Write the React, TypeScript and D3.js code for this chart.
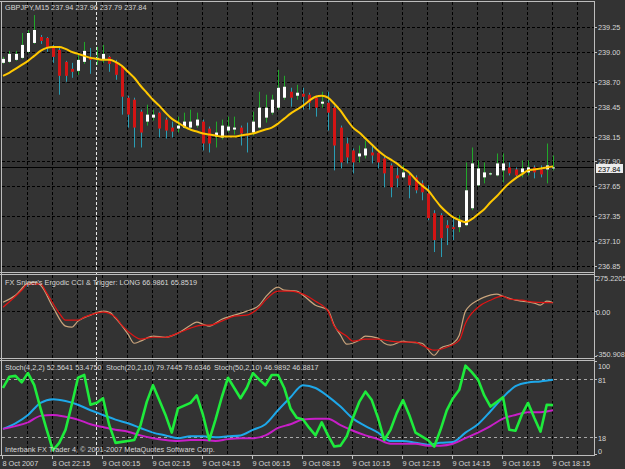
import { useEffect, useRef } from "react";
import * as d3 from "d3";

const WIDTH = 625;
const HEIGHT = 469;

// GBPJPY M15, one entry per bar (8 Oct 20:15 .. 9 Oct 18:15)
const opens = [
  238.89, 238.90, 238.92, 238.94, 239.00, 239.09, 239.15, 239.14, 239.04, 239.02,
  238.90, 238.83, 238.81, 238.90, 238.95, 238.93, 238.92, 238.95, 238.90, 238.85,
  238.54, 238.52, 238.40, 238.30, 238.34, 238.39, 238.32, 238.24, 238.23, 238.24,
  238.24, 238.26, 238.30, 238.23, 238.15, 238.14, 238.21, 238.22, 238.24, 238.18,
  238.19, 238.24, 238.34, 238.39, 238.44, 238.54, 238.60, 238.56, 238.58, 238.57,
  238.54, 238.48, 238.49, 238.44, 238.24, 238.08, 238.01, 237.95, 237.96, 237.99,
  237.99, 237.93, 237.86, 237.76, 237.74, 237.76, 237.74, 237.68, 237.58, 237.38,
  237.36, 237.26, 237.24, 237.24, 237.26, 237.43, 237.66, 237.74, 237.77, 237.76,
  237.81, 237.84, 237.82, 237.79, 237.79, 237.84, 237.82, 237.82, 237.83,
];
const highs = [
  238.95, 239.01, 239.01, 239.19, 239.22, 239.37, 239.17, 239.15, 239.07, 239.04,
  238.91, 238.89, 238.97, 239.10, 239.04, 239.05, 239.07, 238.96, 238.92, 238.86,
  238.56, 238.54, 238.42, 238.47, 238.42, 238.40, 238.34, 238.30, 238.35, 238.39,
  238.42, 238.39, 238.32, 238.25, 238.30, 238.32, 238.35, 238.35, 238.26, 238.29,
  238.40, 238.60, 238.57, 238.57, 238.82, 238.76, 238.64, 238.67, 238.64, 238.59,
  238.56, 238.60, 238.60, 238.46, 238.26, 238.14, 238.03, 238.06, 238.11, 238.06,
  238.01, 237.95, 237.88, 237.84, 237.86, 237.79, 237.76, 237.71, 237.66, 237.41,
  237.38, 237.31, 237.33, 237.36, 237.89, 238.04, 237.91, 237.89, 237.79, 237.98,
  237.98, 237.89, 237.84, 237.91, 237.91, 237.86, 237.86, 238.08, 237.96,
];
const lows = [
  238.88, 238.89, 238.91, 238.93, 238.99, 239.08, 239.08, 239.00, 238.89, 238.57,
  238.70, 238.74, 238.77, 238.88, 238.78, 238.87, 238.89, 238.80, 238.72, 238.37,
  238.24, 238.04, 238.04, 238.26, 238.31, 238.14, 238.13, 238.14, 238.19, 238.23,
  238.21, 238.24, 238.01, 237.99, 238.04, 238.12, 238.19, 238.17, 238.06, 237.99,
  238.16, 238.23, 238.29, 238.37, 238.42, 238.52, 238.45, 238.52, 238.42, 238.42,
  238.35, 238.44, 238.21, 237.81, 237.83, 237.88, 237.78, 237.89, 237.93, 237.88,
  237.83, 237.64, 237.54, 237.64, 237.73, 237.53, 237.58, 237.51, 237.31, 236.99,
  236.94, 237.06, 237.11, 237.19, 237.25, 237.41, 237.65, 237.68, 237.76, 237.75,
  237.69, 237.76, 237.75, 237.74, 237.76, 237.73, 237.74, 237.68, 237.81,
];
const closes = [
  238.93, 238.98, 238.98, 239.07, 239.19, 239.22, 239.11, 239.04, 238.95, 238.76,
  238.76, 238.80, 238.92, 239.01, 238.92, 238.94, 238.98, 238.88, 238.77, 238.55,
  238.37, 238.24, 238.19, 238.37, 238.37, 238.23, 238.21, 238.20, 238.26, 238.30,
  238.30, 238.32, 238.08, 238.08, 238.19, 238.26, 238.25, 238.24, 238.18, 238.16,
  238.30, 238.44, 238.44, 238.52, 238.64, 238.65, 238.54, 238.59, 238.55, 238.49,
  238.44, 238.50, 238.39, 238.06, 237.89, 237.94, 237.89, 237.98, 238.03, 237.96,
  237.89, 237.78, 237.64, 237.73, 237.79, 237.66, 237.61, 237.59, 237.33, 237.11,
  237.13, 237.23, 237.22, 237.31, 237.61, 237.88, 237.83, 237.79, 237.78, 237.88,
  237.88, 237.78, 237.76, 237.83, 237.84, 237.79, 237.77, 237.86, 237.84,
];
// yellow moving average, one value per bar
const maValues = [
  238.76, 238.79, 238.83, 238.87, 238.91, 238.96, 239.01, 239.04, 239.05, 239.05,
  239.03, 239.00, 238.98, 238.96, 238.94, 238.93, 238.92, 238.92, 238.90, 238.86,
  238.80, 238.74, 238.66, 238.59, 238.52, 238.46, 238.39, 238.33, 238.29, 238.25,
  238.22, 238.20, 238.18, 238.17, 238.16, 238.15, 238.15, 238.15, 238.16, 238.17,
  238.18, 238.20, 238.22, 238.24, 238.28, 238.33, 238.38, 238.42, 238.46, 238.51,
  238.55, 238.56, 238.54, 238.48, 238.41, 238.32, 238.24, 238.19, 238.13, 238.07,
  238.01, 237.96, 237.92, 237.88, 237.83, 237.79, 237.72, 237.66, 237.61, 237.53,
  237.45, 237.39, 237.34, 237.31, 237.29, 237.32, 237.37, 237.42, 237.49, 237.55,
  237.62, 237.68, 237.73, 237.77, 237.81, 237.82, 237.83, 237.84, 237.85,
];
const currentPrice = 237.84;
const priceTicks = [239.25, 239.0, 238.7, 238.45, 238.15, 237.9, 237.65, 237.35, 237.1, 236.85];
const timeLabels = [
  "8 Oct 2007", "8 Oct 22:15", "9 Oct 00:15", "9 Oct 02:15", "9 Oct 04:15", "9 Oct 06:15",
  "9 Oct 08:15", "9 Oct 10:15", "9 Oct 12:15", "9 Oct 14:15", "9 Oct 16:15", "9 Oct 18:15",
];

// Ergodic CCI (tan) and trigger (red): bar index / value
const cciIdx = [
  0, 2, 4, 5, 6, 8, 10, 11, 12, 14, 16, 17, 18, 20, 21, 22, 24, 26, 28, 30,
  31, 32, 33, 35, 37, 39, 41, 42, 44, 45, 47, 48, 50, 52, 53, 54, 55, 57, 58, 60,
  61, 62, 64, 65, 67, 69, 70, 72, 73, 74, 76, 77, 79, 80, 82, 83, 85, 86, 87, 88,
];
const cciValues = [
  70, 125, 219, 227, 204, 31, -117, -125, -78, -31, 0, -8, -55, -180, -251, -235, -196, -204, -172, -110,
  -86, -102, -117, -63, -31, 0, 47, 110, 188, 164, 157, 125, 47, 8, -110, -188, -258, -227, -196, -211,
  -251, -266, -235, -243, -251, -345, -290, -251, -188, 0, 86, 110, 133, 117, 86, 78, 63, 47, 78, 67,
];
const triggerIdx = [
  0, 2, 3, 4, 6, 7, 9, 10, 12, 13, 15, 16, 18, 19, 21, 22, 24, 26, 28, 30,
  32, 33, 35, 37, 39, 41, 42, 44, 46, 48, 50, 52, 53, 55, 56, 58, 60, 62, 64, 66,
  67, 69, 71, 73, 74, 76, 78, 80, 81, 83, 85, 88,
];
const triggerValues = [
  31, 117, 164, 211, 211, 141, -16, -70, -70, -47, -16, -8, -47, -110, -196, -219, -204, -204, -172, -133,
  -110, -110, -78, -39, -31, 31, 86, 157, 157, 133, 78, 0, -117, -196, -235, -219, -219, -235, -243, -243,
  -266, -305, -282, -227, -94, 31, 86, 117, 94, 86, 70, 66,
];
const cciMax = 275.2205;
const cciMin = -350.908;

// Stoch(4,2,2): every bar
const stochFast = [
  71, 83, 84, 77, 87, 74, 49, 26, 4, 12,
  26, 53, 82, 85, 53, 55, 60, 31, 12, 13,
  14, 15, 31, 56, 74, 58, 42, 23, 49, 52,
  55, 63, 42, 15, 37, 61, 82, 71, 60, 71,
  87, 80, 74, 85, 85, 71, 49, 39, 37, 28,
  20, 34, 20, 8, 9, 19, 39, 56, 67, 58,
  39, 15, 26, 44, 58, 42, 23, 19, 15, 8,
  26, 47, 60, 69, 95, 88, 80, 63, 51, 56,
  61, 26, 25, 42, 55, 39, 24, 53, 52.56,
];
// Stoch(20,2,10) and Stoch(50,2,10): every second bar
const stochMid = [
  27, 33, 42, 55, 59, 57, 53, 47, 42, 37,
  33, 28, 23, 20, 17, 19, 19, 18, 19, 20,
  26, 32, 47, 61, 74, 71, 62, 51, 38, 30,
  23, 14, 14, 12, 10, 12, 13, 23, 32, 46,
  61, 73, 77, 78, 79.74,
];
const stochSlow = [
  27, 30, 34, 41, 42, 40, 37, 32, 29, 26,
  24, 20, 17, 15, 14, 15, 15, 14, 16, 17,
  17, 20, 28, 32, 37, 38, 38, 31, 25, 20,
  16, 11, 11, 11, 9, 9, 11, 17, 23, 30,
  38, 42, 45, 45, 46.99,
];
const stochLevels = [81, 18];
const stochTicks = [100, 81, 18, 0];

const FONT = "'Liberation Sans', Arial, sans-serif";
const TEXT = "#d6d6d6";
const FRAME = "#bdbdbd";

export default function App() {
  const ref = useRef<SVGSVGElement>(null);

  useEffect(() => {
    if (!ref.current) return;
    const svg = d3.select(ref.current);
    svg.selectAll("*").remove();

    const left = 2;
    const right = 594;
    const main = { top: 2, bottom: 272 };
    const cci = { top: 275, bottom: 358 };
    const sto = { top: 361, bottom: 455 };

    const x = d3.scaleLinear().domain([0, 88]).range([3, 553]);
    const yPrice = d3.scaleLinear().domain([236.85, 239.25]).range([266, 27]);
    const yCci = d3.scaleLinear().domain([cciMin, cciMax]).range([356, 276]);
    const yStoch = d3.scaleLinear().domain([0, 100]).range([454, 361]);
    const px = (v: number) => Math.round(v) + 0.5;

    svg.append("rect").attr("width", WIDTH).attr("height", HEIGHT).attr("fill", "#333333");

    const defs = svg.append("defs");
    [["clip-main", main], ["clip-cci", cci], ["clip-sto", sto]].forEach(([id, p]: any) => {
      defs.append("clipPath").attr("id", id)
        .append("rect").attr("x", left).attr("y", p.top).attr("width", right - left).attr("height", p.bottom - p.top);
    });

    // 1) GRID
    const gridX = d3.range(4, 93, 4);
    [main, cci, sto].forEach((p) => {
      gridX.forEach((i) => {
        svg.append("line")
          .attr("x1", Math.round(x(i)) - 0.5).attr("x2", Math.round(x(i)) - 0.5)
          .attr("y1", p.top).attr("y2", p.bottom)
          .attr("stroke", "#000").attr("stroke-dasharray", "3,2");
      });
    });
    priceTicks.forEach((t) => {
      svg.append("line")
        .attr("x1", left).attr("x2", right)
        .attr("y1", px(yPrice(t))).attr("y2", px(yPrice(t)))
        .attr("stroke", "#000").attr("stroke-dasharray", "3,2");
    });
    svg.append("line")
      .attr("x1", left).attr("x2", right)
      .attr("y1", px(yCci(0))).attr("y2", px(yCci(0)))
      .attr("stroke", "#000").attr("stroke-dasharray", "3,2");
    stochLevels.forEach((l) => {
      svg.append("line")
        .attr("x1", left).attr("x2", right)
        .attr("y1", px(yStoch(l))).attr("y2", px(yStoch(l)))
        .attr("stroke", "#a8a8a8").attr("stroke-dasharray", "3,3");
    });

    // current price line
    svg.append("line")
      .attr("x1", left).attr("x2", right)
      .attr("y1", px(yPrice(currentPrice))).attr("y2", px(yPrice(currentPrice)))
      .attr("stroke", "#000");

    // crosshair
    svg.append("line")
      .attr("x1", Math.round(x(15)) - 0.5).attr("x2", Math.round(x(15)) - 0.5)
      .attr("y1", main.top).attr("y2", sto.bottom)
      .attr("stroke", "#e8e8e8").attr("stroke-dasharray", "3,2");

    // 2) CANDLES
    const gMain = svg.append("g").attr("clip-path", "url(#clip-main)");
    opens.forEach((o, i) => {
      const c = closes[i];
      const bull = c >= o;
      const cx = Math.round(x(i));
      gMain.append("line")
        .attr("x1", cx + 0.5).attr("x2", cx + 0.5)
        .attr("y1", yPrice(highs[i])).attr("y2", yPrice(lows[i]))
        .attr("stroke", bull ? "#21a82a" : "#2a9db4").attr("stroke-width", 1);
      const yTop = yPrice(Math.max(o, c));
      const yBot = yPrice(Math.min(o, c));
      gMain.append("rect")
        .attr("x", cx - 1).attr("width", 3)
        .attr("y", yTop).attr("height", Math.max(1, yBot - yTop))
        .attr("fill", bull ? "#ffffff" : "#d41414");
    });

    const maLine = d3.line<number>().x((_, i) => x(i)).y((d) => yPrice(d)).curve(d3.curveMonotoneX);
    gMain.append("path").attr("d", maLine(maValues))
      .attr("fill", "none").attr("stroke", "#ffc800").attr("stroke-width", 2);

    // 3) CCI PANEL
    const gCci = svg.append("g").attr("clip-path", "url(#clip-cci)");
    const pairLine = (yS: d3.ScaleLinear<number, number>) =>
      d3.line<[number, number]>().x((d) => x(d[0])).y((d) => yS(d[1])).curve(d3.curveMonotoneX);
    gCci.append("path")
      .attr("d", pairLine(yCci)(cciIdx.map((i, k) => [i, cciValues[k]])))
      .attr("fill", "none").attr("stroke", "#c9a47c").attr("stroke-width", 1.2);
    gCci.append("path")
      .attr("d", pairLine(yCci)(triggerIdx.map((i, k) => [i, triggerValues[k]])))
      .attr("fill", "none").attr("stroke", "#e01414").attr("stroke-width", 1.2);

    // 4) STOCH PANEL
    const gSto = svg.append("g").attr("clip-path", "url(#clip-sto)");
    const everyOther = (vals: number[]) => vals.map((v, k) => [k * 2, v] as [number, number]);
    gSto.append("path")
      .attr("d", pairLine(yStoch)(everyOther(stochMid)))
      .attr("fill", "none").attr("stroke", "#1ea8ea").attr("stroke-width", 2);
    gSto.append("path")
      .attr("d", pairLine(yStoch)(everyOther(stochSlow)))
      .attr("fill", "none").attr("stroke", "#c81ec8").attr("stroke-width", 2);
    const fastLine = d3.line<number>().x((_, i) => x(i)).y((d) => yStoch(d));
    gSto.append("path").attr("d", fastLine(stochFast))
      .attr("fill", "none").attr("stroke", "#1eeb3c").attr("stroke-width", 2.6)
      .attr("stroke-linejoin", "round");

    // 5) FRAME
    const frameLine = (x1: number, y1: number, x2: number, y2: number) =>
      svg.append("line").attr("x1", x1).attr("y1", y1).attr("x2", x2).attr("y2", y2)
        .attr("stroke", FRAME).attr("stroke-width", 1);
    frameLine(0, 1.5, right + 0.5, 1.5);
    frameLine(1.5, 1, 1.5, sto.bottom);
    frameLine(right + 0.5, 1, right + 0.5, sto.bottom + 1);
    frameLine(0, main.bottom + 0.5, right, main.bottom + 0.5);
    frameLine(0, cci.top - 0.5, right, cci.top - 0.5);
    frameLine(0, cci.bottom + 0.5, right, cci.bottom + 0.5);
    frameLine(0, sto.top - 0.5, right, sto.top - 0.5);
    frameLine(0, sto.bottom + 0.5, right + 0.5, sto.bottom + 0.5);

    const label = (tx: number, ty: number, s: string, fill = TEXT) =>
      svg.append("text").attr("x", tx).attr("y", ty).text(s)
        .attr("font-family", FONT).attr("font-size", "7.3px").attr("fill", fill);

    // price axis
    priceTicks.forEach((t) => {
      const yy = px(yPrice(t));
      frameLine(right, yy, right + 3, yy);
      label(598, yy + 2.5, t.toFixed(2));
    });
    const yc = px(yPrice(currentPrice));
    svg.append("rect").attr("x", 596).attr("y", yc - 3.5).attr("width", 27).attr("height", 9).attr("fill", "#ececec");
    label(598, yc + 4, currentPrice.toFixed(2), "#000");

    // CCI axis
    [[cciMax, "275.2205", 281], [0, "0.00", px(yCci(0)) + 3], [cciMin, "-350.908", 357]].forEach(([v, s, ty]: any) => {
      frameLine(right, px(yCci(v)), right + 3, px(yCci(v)));
      label(596, ty, s);
    });

    // stoch axis
    stochTicks.forEach((t) => {
      const yy = Math.min(Math.max(px(yStoch(t)), sto.top + 5), sto.bottom - 4);
      frameLine(right, px(yStoch(t)), right + 3, px(yStoch(t)));
      label(598, yy + 3, String(t));
    });

    // time axis
    timeLabels.forEach((s, k) => {
      const tx = Math.round(x(k * 8)) - 0.5;
      frameLine(tx, sto.bottom, tx, sto.bottom + 4);
      label(tx, 466, s);
    });

    // titles
    label(5, 10, "GBPJPY,M15  237.94 237.96 237.79 237.84");
    label(5, 285, "FX Sniper's Ergodic CCI & Trigger: LONG 66.9861 65.8519");
    label(5, 370, "Stoch(4,2,2) 52.5641 53.4750");
    label(106, 370, "Stoch(20,2,10) 79.7445 79.6346");
    label(214, 370, "Stoch(50,2,10) 46.9892 46.8817");
    label(5, 452, "Interbank FX Trader 4, \u00a9 2001-2007 MetaQuotes Software Corp.");
  }, []);

  return (
    <svg
      ref={ref}
      width={WIDTH}
      height={HEIGHT}
      style={{ position: "absolute", left: 0, top: 0, display: "block" }}
    />
  );
}
